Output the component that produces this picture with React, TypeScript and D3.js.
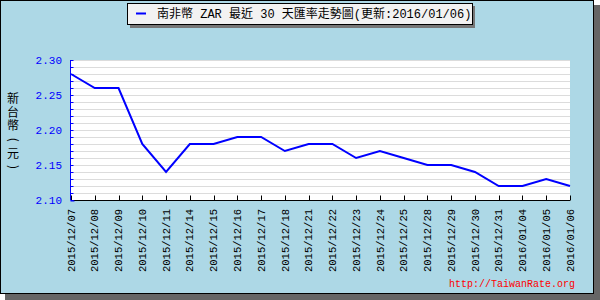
import React, { useRef, useEffect } from 'react';
import * as d3 from 'd3';

const dates = [
  '2015/12/07', '2015/12/08', '2015/12/09', '2015/12/10', '2015/12/11',
  '2015/12/14', '2015/12/15', '2015/12/16', '2015/12/17', '2015/12/18',
  '2015/12/21', '2015/12/22', '2015/12/23', '2015/12/24', '2015/12/25',
  '2015/12/28', '2015/12/29', '2015/12/30', '2015/12/31', '2016/01/04',
  '2016/01/05', '2016/01/06',
];
const rates = [
  2.28, 2.26, 2.26, 2.18, 2.14, 2.18, 2.18, 2.19, 2.19, 2.17, 2.18,
  2.18, 2.16, 2.17, 2.16, 2.15, 2.15, 2.14, 2.12, 2.12, 2.13, 2.12,
];
const yTicks = [2.1, 2.15, 2.2, 2.25, 2.3];
const titleText = '南非幣 ZAR 最近 30 天匯率走勢圖(更新:2016/01/06)';
const yTitle = ['新', '台', '幣', '(', '元', ')'];
const credit = 'http://TaiwanRate.org';

const mono = '"Liberation Mono", "DejaVu Sans Mono", monospace';
const cjk = '"Noto Sans CJK TC", sans-serif';

export default function App() {
  const ref = useRef<SVGSVGElement>(null);

  useEffect(() => {
    if (!ref.current) return;
    const svg = d3.select(ref.current);
    svg.selectAll('*').remove();

    const left = 71, right = 570, top = 60, bottom = 200;

    // frame + shadow
    svg.append('rect').attr('x', 5).attr('y', 5).attr('width', 595).attr('height', 295).attr('fill', '#666');
    svg.append('rect').attr('x', 0.5).attr('y', 0.5).attr('width', 593).attr('height', 293)
      .attr('fill', '#add8e6').attr('stroke', '#000');

    const x = d3.scalePoint<string>().domain(dates).range([left, right]);
    const y = d3.scaleLinear().domain([2.1, 2.3]).range([bottom, top]);

    // plot background
    svg.append('rect').attr('x', left).attr('y', top).attr('width', right - left).attr('height', bottom - top)
      .attr('fill', '#fff');

    // gridlines every 0.01
    const minor = d3.range(0, 21).map(i => 2.1 + i * 0.01);
    svg.append('g').selectAll('line').data(minor.slice(1)).enter().append('line')
      .attr('x1', left).attr('x2', right)
      .attr('y1', d => Math.round(y(d)) + 0.5).attr('y2', d => Math.round(y(d)) + 0.5)
      .attr('stroke', '#dcdcdc').attr('stroke-width', 1);

    // x axis
    const xg = svg.append('g').attr('transform', `translate(0,${bottom + 0.5})`);
    xg.append('line').attr('x1', left).attr('x2', right).attr('stroke', '#000');
    xg.selectAll('line.t').data(dates).enter().append('line').attr('class', 't')
      .attr('x1', d => Math.round(x(d)!) + 0.5).attr('x2', d => Math.round(x(d)!) + 0.5)
      .attr('y1', 0).attr('y2', -5).attr('stroke', '#000');
    svg.append('g').selectAll('text').data(dates).enter().append('text')
      .attr('transform', d => `translate(${x(d)},209) rotate(-90)`)
      .attr('dy', '0.35em').attr('text-anchor', 'end')
      .attr('font-family', mono).attr('font-size', 10.5).attr('fill', '#000')
      .text(d => d);

    // y axis
    const yg = svg.append('g').attr('transform', `translate(${left - 0.5},0)`);
    yg.append('line').attr('y1', top).attr('y2', bottom).attr('stroke', '#00f');
    yg.selectAll('line.t').data(minor).enter().append('line').attr('class', 't')
      .attr('x1', 0).attr('x2', 3)
      .attr('y1', d => Math.round(y(d)) + 0.5).attr('y2', d => Math.round(y(d)) + 0.5)
      .attr('stroke', '#00f');
    yg.append('line').attr('x1', 0).attr('x2', 4).attr('y1', bottom + 1).attr('y2', bottom + 1).attr('stroke', '#00f');
    svg.append('g').selectAll('text').data(yTicks).enter().append('text')
      .attr('x', 62).attr('y', d => y(d)).attr('dy', '0.35em').attr('text-anchor', 'end')
      .attr('font-family', mono).attr('font-size', 11).attr('fill', '#00f')
      .text(d => d3.format('.2f')(d));

    // y title, stacked characters, brackets turned
    const yt = svg.append('g');
    yTitle.forEach((ch, i) => {
      const cy = 99 + i * 13.6;
      const t = yt.append('text')
        .attr('x', 13).attr('y', cy).attr('dy', '0.35em').attr('text-anchor', 'middle')
        .attr('font-family', cjk).attr('font-size', 12).attr('fill', '#000')
        .text(ch);
      if (ch === '(' || ch === ')') t.attr('transform', `rotate(90,13,${cy})`);
    });

    // line
    const line = d3.line<number>().x((_, i) => x(dates[i])!).y(d => y(d));
    svg.append('path').datum(rates).attr('d', line).attr('fill', 'none')
      .attr('stroke', '#00f').attr('stroke-width', 2);

    // legend / title box
    svg.append('rect').attr('x', 130).attr('y', 6).attr('width', 345).attr('height', 22).attr('fill', '#777');
    svg.append('rect').attr('x', 127.5).attr('y', 3.5).attr('width', 345).attr('height', 21)
      .attr('fill', '#f2f2f2').attr('stroke', '#000');
    svg.append('line').attr('x1', 136).attr('x2', 146).attr('y1', 13.5).attr('y2', 13.5)
      .attr('stroke', '#00f').attr('stroke-width', 2);
    svg.append('text').attr('x', 157).attr('y', 18)
      .attr('font-family', `"Liberation Mono", ${cjk}`).attr('font-size', 12).attr('fill', '#000')
      .text(titleText);

    // credit
    svg.append('text').attr('x', 575).attr('y', 287).attr('text-anchor', 'end')
      .attr('font-family', mono).attr('font-size', 10).attr('fill', '#f00')
      .text(credit);
  }, []);

  return (
    <svg ref={ref} width={600} height={300} style={{ position: 'absolute', left: 0, top: 0 }} />
  );
}
